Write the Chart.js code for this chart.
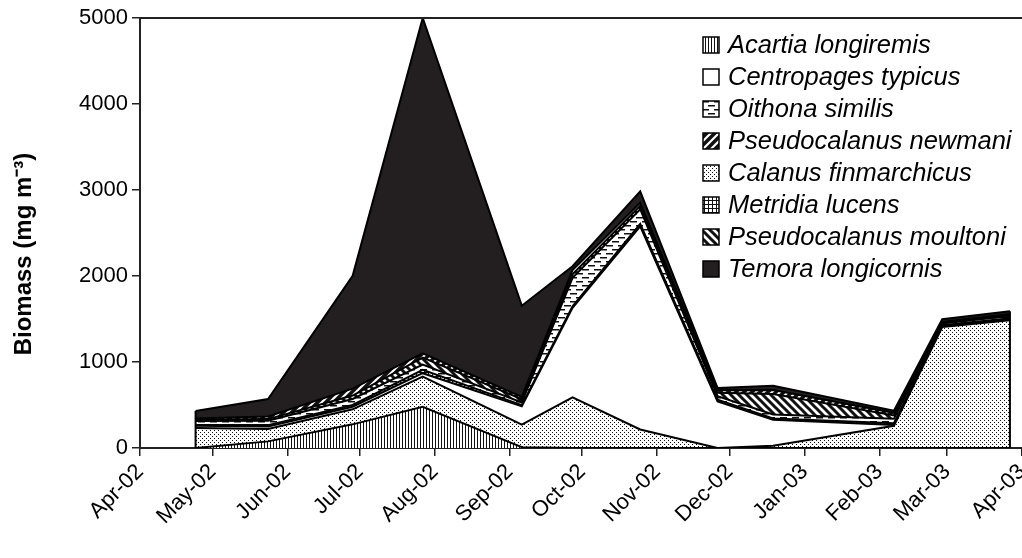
<!DOCTYPE html>
<html>
<head>
<meta charset="utf-8">
<script src="https://cdn.jsdelivr.net/npm/chart.js@4.4.1/dist/chart.umd.min.js"></script>
<style>
  body { margin: 0; background: #fff; }
  canvas { display: block; }
</style>
</head>
<body>
<canvas id="biomass-chart" width="1022" height="558"></canvas>
<script>
// sampling dates and month axis
const sampleDates = ['2002-04-24', '2002-05-24', '2002-06-28', '2002-07-27', '2002-09-06', '2002-09-27',
                     '2002-10-25', '2002-11-26', '2002-12-19', '2003-02-07', '2003-02-27', '2003-03-27'];
const monthStarts = ['2002-04-01', '2002-05-01', '2002-06-01', '2002-07-01', '2002-08-01', '2002-09-01', '2002-10-01',
                     '2002-11-01', '2002-12-01', '2003-01-01', '2003-02-01', '2003-03-01', '2003-04-01'];
const monthLabels = ['Apr-02', 'May-02', 'Jun-02', 'Jul-02', 'Aug-02', 'Sep-02', 'Oct-02',
                     'Nov-02', 'Dec-02', 'Jan-03', 'Feb-03', 'Mar-03', 'Apr-03'];

// biomass (mg m-3), listed bottom to top of the stack
const acartia     = [0, 77, 275, 480, 10, 0, 0, 0, 0, 0, 0, 0];
const calanus     = [233, 144, 175, 350, 261, 589, 215, 0, 25, 259, 1407, 1484];
const centropages = [25, 30, 30, 40, 213, 1040, 2362, 542, 304, 10, 10, 10];
const metridia    = [10, 15, 20, 40, 15, 20, 30, 20, 15, 20, 10, 15];
const oithona     = [45, 50, 70, 60, 30, 330, 170, 40, 45, 50, 20, 25];
const moultoni    = [15, 20, 40, 80, 40, 40, 40, 40, 240, 40, 10, 10];
const newmani     = [15, 30, 80, 50, 25, 50, 35, 30, 45, 30, 10, 15];
const temora      = [87, 204, 1313, 3900, 1061, 45, 132, 26, 51, 25, 30, 30];

const legendOrder = ['Acartia longiremis', 'Centropages typicus', 'Oithona similis', 'Pseudocalanus newmani',
                     'Calanus finmarchicus', 'Metridia lucens', 'Pseudocalanus moultoni', 'Temora longicornis'];
const yTitle = 'Biomass (mg m\u207B\u00B3)';

const canvas = document.getElementById('biomass-chart');
const ctx = canvas.getContext('2d');

const dayOf = s => (Date.parse(s) - Date.parse(monthStarts[0])) / 86400000;

function pattern(size, draw) {
  const tile = document.createElement('canvas');
  tile.width = size[0];
  tile.height = size[1];
  const g = tile.getContext('2d');
  g.fillStyle = '#fff';
  g.fillRect(0, 0, size[0], size[1]);
  g.fillStyle = '#111';
  g.strokeStyle = '#111';
  draw(g);
  return ctx.createPattern(tile, 'repeat');
}

const fills = {
  vlines: pattern([3, 3], g => g.fillRect(0, 0, 1, 3)),
  white: '#ffffff',
  dots: pattern([4, 4], g => { g.fillRect(0, 0, 1, 1); g.fillRect(2, 2, 1, 1); }),
  grid: pattern([4, 4], g => { g.fillRect(0, 0, 4, 1); g.fillRect(0, 0, 1, 4); }),
  dashes: pattern([12, 8], g => { g.fillRect(0, 1, 7, 1.5); g.fillRect(6, 5, 6, 1.5); g.fillRect(0, 5, 1, 1.5); }),
  fwd: pattern([8, 8], g => {
    g.lineWidth = 3.5;
    g.beginPath();
    g.moveTo(-2, 10); g.lineTo(10, -2);
    g.moveTo(-2, 2); g.lineTo(2, -2);
    g.moveTo(6, 10); g.lineTo(10, 6);
    g.stroke();
  }),
  back: pattern([8, 8], g => {
    g.lineWidth = 3;
    g.beginPath();
    g.moveTo(-2, -2); g.lineTo(10, 10);
    g.moveTo(-2, 6); g.lineTo(2, 10);
    g.moveTo(6, -2); g.lineTo(10, 2);
    g.stroke();
  }),
  solid: '#231f20'
};

const series = [
  { label: 'Acartia longiremis', values: acartia, fill: fills.vlines },
  { label: 'Calanus finmarchicus', values: calanus, fill: fills.dots },
  { label: 'Centropages typicus', values: centropages, fill: fills.white },
  { label: 'Metridia lucens', values: metridia, fill: fills.grid },
  { label: 'Oithona similis', values: oithona, fill: fills.dashes },
  { label: 'Pseudocalanus moultoni', values: moultoni, fill: fills.back },
  { label: 'Pseudocalanus newmani', values: newmani, fill: fills.fwd },
  { label: 'Temora longicornis', values: temora, fill: fills.solid }
];

const sampleDays = sampleDates.map(dayOf);

const datasets = series.map((s, i) => ({
  label: s.label,
  data: s.values.map((v, j) => ({ x: sampleDays[j], y: v })),
  backgroundColor: s.fill,
  borderColor: '#000',
  borderWidth: 2,
  pointRadius: 0,
  tension: 0,
  fill: i === 0 ? 'origin' : '-1'
}));

const fontFamily = '"Liberation Sans", Arial, sans-serif';

// area outline at both ends, border on top of the plot
const framePlugin = {
  id: 'frame',
  afterDatasetsDraw(chart) {
    const { chartArea, scales } = chart;
    const c = chart.ctx;
    c.save();
    c.strokeStyle = '#222';
    c.lineWidth = 2;
    c.beginPath();
    c.moveTo(chartArea.left, chartArea.top);
    c.lineTo(chartArea.right, chartArea.top);
    c.stroke();
    const pts = chart.getDatasetMeta(chart.data.datasets.length - 1).data;
    const base = scales.y.getPixelForValue(0);
    c.strokeStyle = '#000';
    [pts[0], pts[pts.length - 1]].forEach(p => {
      c.beginPath();
      c.moveTo(p.x, p.y);
      c.lineTo(p.x, base);
      c.stroke();
    });
    c.restore();
  }
};

const legendPlugin = {
  id: 'speciesLegend',
  afterDraw(chart) {
    const { chartArea } = chart;
    const c = chart.ctx;
    const x0 = chartArea.right - 319;
    const y0 = chartArea.top + 27;
    c.save();
    legendOrder.forEach((name, i) => {
      const ds = chart.data.datasets.find(d => d.label === name);
      const cy = y0 + i * 32;
      c.fillStyle = ds.backgroundColor;
      c.fillRect(x0, cy - 8, 16, 16);
      c.strokeStyle = '#000';
      c.lineWidth = 1.5;
      c.strokeRect(x0, cy - 8, 16, 16);
      c.fillStyle = '#000';
      c.font = 'italic 25.5px ' + fontFamily;
      c.textBaseline = 'middle';
      c.fillText(name, x0 + 25, cy + 1);
    });
    // y axis title, a little below the plot centre as in the original
    c.translate(24, (chartArea.top + chartArea.bottom) / 2 + 21);
    c.rotate(-Math.PI / 2);
    c.textAlign = 'center';
    c.textBaseline = 'middle';
    c.font = 'bold 24px ' + fontFamily;
    c.fillText(yTitle, 0, 0);
    c.restore();
  }
};

new Chart(canvas, {
  type: 'line',
  data: { datasets },
  options: {
    responsive: false,
    animation: false,
    devicePixelRatio: 1,
    layout: { padding: { top: 18, right: 0, left: 0, bottom: 0 } },
    plugins: {
      legend: { display: false },
      tooltip: { enabled: false }
    },
    scales: {
      x: {
        type: 'linear',
        min: 0,
        max: dayOf(monthStarts[monthStarts.length - 1]),
        afterBuildTicks: s => { s.ticks = monthStarts.map(d => ({ value: dayOf(d) })); },
        afterFit: s => { s.height = 110; s.paddingLeft = 0; s.paddingRight = 0; },
        ticks: {
          callback: (v, i) => monthLabels[i],
          autoSkip: false,
          minRotation: 45,
          maxRotation: 45,
          padding: 3,
          color: '#000',
          font: { family: fontFamily, size: 22 }
        },
        grid: { drawOnChartArea: false, drawTicks: true, tickLength: 8, color: '#222', lineWidth: 1.5 },
        border: { display: true, color: '#222', width: 2 }
      },
      y: {
        stacked: true,
        min: 0,
        max: 5000,
        afterFit: s => { s.width = 140; },
        ticks: {
          stepSize: 1000,
          callback: v => String(v),
          padding: 4,
          color: '#000',
          font: { family: fontFamily, size: 22 }
        },
        grid: { drawOnChartArea: false, drawTicks: true, tickLength: 8, color: '#222', lineWidth: 1.5 },
        border: { display: true, color: '#222', width: 2 }
      }
    }
  },
  plugins: [framePlugin, legendPlugin]
});
</script>
</body>
</html>
